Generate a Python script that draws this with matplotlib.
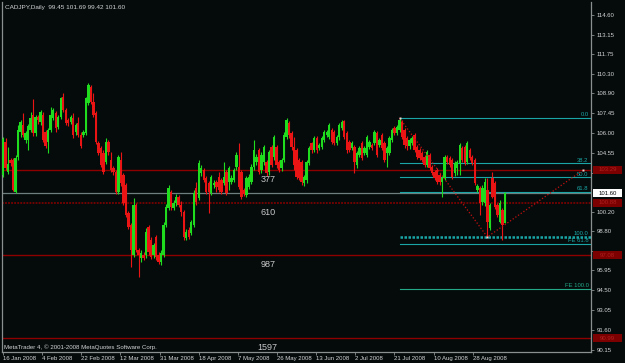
import matplotlib
matplotlib.use("Agg")
import matplotlib.pyplot as plt
import matplotlib.transforms as mtransforms
from matplotlib.patches import Rectangle
import numpy as np

plt.rcParams['font.family'] = ['Liberation Sans', 'DejaVu Sans']

# ---------------- data ----------------
symbol_title = "CADJPY,Daily  99.45 101.69 99.42 101.60"
copyright_text = "MetaTrader 4, \u00a9 2001-2008 MetaQuotes Software Corp."

opens = [102.92,105.33,103.14,104.02,104.02,101.68,104.23,106.06,106.57,105.48,
         105.48,106.21,107.30,105.99,107.15,106.79,107.30,106.06,105.33,106.21,
         107.08,107.45,106.42,107.15,108.61,107.67,106.94,106.79,107.08,106.06,
         106.72,105.84,105.84,105.99,108.18,109.35,108.25,107.45,105.26,104.89,
         104.53,103.87,105.33,104.02,103.43,103.14,101.68,104.02,102.92,102.19,
         100.15,99.27,97.08,100.73,97.45,96.86,97.08,97.08,99.12,98.18,
         97.08,98.40,97.08,96.57,97.08,99.27,100.51,101.68,100.51,100.88,
         101.31,100.73,100.22,98.32,98.91,98.69,99.27,101.97,101.24,103.07,
         103.29,102.70,102.34,101.61,102.19,102.41,102.77,102.56,102.34,103.14,
         102.41,102.41,102.56,103.50,103.50,103.14,101.83,101.46,102.04,102.41,
         103.50,103.87,104.75,103.29,103.87,103.87,103.14,104.96,104.23,104.96,
         103.87,103.43,104.02,105.70,106.72,105.99,104.96,104.75,104.02,103.87,
         102.34,102.56,103.80,105.26,104.75,105.62,104.89,104.96,105.48,105.84,
         105.70,106.21,106.06,105.26,105.70,106.35,106.86,105.99,105.33,104.89,
         104.96,103.65,104.38,105.26,104.53,104.38,104.96,105.11,105.26,105.99,
         105.11,105.84,105.26,104.53,104.53,105.48,106.35,105.99,106.21,106.79,
         106.21,105.62,105.04,105.26,105.84,104.96,104.75,104.53,104.23,103.65,
         104.38,103.50,103.14,103.29,102.92,102.41,102.70,104.23,104.16,104.02,
         103.07,103.43,103.80,104.89,104.96,103.87,104.75,104.23,104.02,101.83,
         101.97,100.95,100.88,101.83,99.05,102.70,102.34,100.73,99.49,100.37,
         99.45]
highs = [105.70,105.62,104.96,104.16,104.16,104.38,106.57,106.94,107.45,106.13,
         106.64,107.52,108.47,107.30,107.30,107.67,107.52,106.21,106.35,107.88,
         107.81,107.59,107.30,108.61,108.91,107.81,107.08,107.30,107.45,106.72,
         107.15,106.06,106.21,108.61,109.64,109.49,108.91,107.59,105.40,105.04,
         104.75,105.62,105.48,104.60,103.58,103.29,104.38,104.60,103.07,102.34,
         100.29,99.42,101.24,100.88,97.59,97.45,97.30,99.05,99.27,98.40,
         97.96,98.54,97.30,97.45,99.49,100.80,102.19,101.83,101.10,101.53,
         101.46,101.02,100.37,98.98,99.12,99.64,101.83,102.41,104.02,103.65,
         103.43,102.85,102.48,102.92,102.56,102.56,103.14,102.70,103.87,103.29,
         103.58,102.92,103.43,104.60,105.26,103.29,101.97,102.85,102.99,103.72,
         105.48,104.45,104.89,104.60,105.11,104.02,104.75,105.11,105.84,105.11,
         104.02,104.16,106.06,107.08,106.86,106.13,105.70,104.89,104.16,104.02,
         102.92,104.02,105.04,105.33,105.77,105.77,105.26,105.77,106.21,106.21,
         106.72,106.35,106.21,105.84,106.72,106.94,106.94,106.13,105.48,105.40,
         105.11,104.67,105.04,105.40,105.04,105.84,105.48,105.26,106.21,106.13,
         105.62,105.99,105.40,105.04,105.77,106.35,106.50,106.57,107.08,106.94,
         106.35,105.77,105.62,105.77,105.99,105.11,104.89,104.67,104.38,104.75,
         104.53,103.65,103.29,103.43,103.07,102.85,104.38,104.38,104.31,104.16,
         103.94,104.02,105.26,105.04,105.11,105.40,104.89,104.38,104.16,102.26,
         102.12,102.19,102.70,102.70,100.88,103.14,102.48,100.88,101.10,100.51,
         101.69]
lows = [102.77,103.29,102.99,103.58,101.75,101.61,104.02,105.70,105.70,105.26,
        104.75,106.06,105.77,105.77,106.64,106.57,105.33,104.89,104.53,106.06,
        106.94,106.06,106.28,107.01,107.52,106.57,106.50,106.64,105.62,105.84,
        105.70,104.89,105.70,105.84,108.03,108.10,107.15,105.18,104.38,103.50,
        102.99,103.72,104.38,103.14,102.92,101.53,101.53,102.12,100.73,99.85,
        98.98,96.20,96.94,97.30,95.47,96.57,96.72,96.86,97.08,96.79,
        96.86,96.72,96.42,96.35,96.94,99.12,100.37,100.37,100.37,100.66,
        100.58,99.93,98.18,98.18,98.25,98.54,99.12,100.73,101.10,102.85,
        102.41,101.53,100.15,101.46,101.97,101.68,101.68,101.53,102.19,101.46,
        101.83,102.26,102.41,103.29,101.90,101.17,101.39,101.31,101.90,102.26,
        103.29,103.65,102.99,103.07,103.65,102.85,102.92,103.50,104.02,103.43,
        103.14,103.21,103.87,105.55,105.62,104.75,103.29,102.63,102.56,102.19,
        102.12,102.34,103.65,104.53,104.60,104.53,104.75,104.82,105.33,105.70,
        105.55,105.18,105.11,105.11,105.48,106.21,105.55,104.53,104.60,104.75,
        103.07,103.43,104.23,104.02,104.38,104.23,104.82,104.75,105.11,104.23,
        104.96,104.75,103.87,103.50,104.38,105.33,105.84,105.84,106.06,105.55,
        104.89,104.75,104.82,105.11,104.60,104.09,104.02,103.87,103.50,103.50,
        103.29,102.92,102.56,102.26,102.19,101.31,102.56,103.72,103.50,102.63,
        102.85,102.92,102.92,103.87,103.65,103.72,104.02,103.65,102.19,101.68,
        100.00,100.73,100.66,98.40,98.91,101.24,100.44,99.85,99.42,98.18,
        99.42]
closes = [105.55,103.43,103.72,103.80,101.83,104.16,106.21,106.79,105.84,105.99,
          106.50,107.08,105.99,107.15,106.94,107.52,105.48,105.04,106.21,107.30,
          107.67,106.35,107.15,108.54,107.67,106.72,106.72,107.15,105.84,106.57,
          105.84,105.04,106.06,108.54,109.49,108.25,107.30,105.33,104.53,103.65,
          103.14,105.33,104.60,103.29,103.14,101.68,104.23,102.34,100.88,100.00,
          99.12,97.45,100.73,97.45,97.08,97.23,96.86,98.76,97.30,96.94,
          97.81,96.94,96.57,97.23,99.27,100.58,101.97,100.58,100.88,101.31,
          100.73,100.22,98.40,98.76,98.40,99.49,101.61,100.95,103.80,103.43,
          102.56,101.68,101.68,102.77,102.34,102.04,101.83,101.68,102.77,101.61,
          103.43,102.70,103.29,104.38,102.04,101.31,101.53,102.70,102.77,103.50,
          104.75,104.23,103.14,104.38,104.96,103.07,104.60,103.65,105.70,103.65,
          103.29,104.02,105.84,106.94,105.84,104.96,103.65,102.77,102.70,102.41,
          102.77,103.87,104.89,104.75,105.62,104.75,105.11,105.62,106.06,106.06,
          106.57,105.33,105.26,105.70,106.57,106.79,105.70,104.75,104.75,105.26,
          103.87,104.53,104.89,104.16,104.89,105.70,105.33,104.89,106.06,104.38,
          105.48,104.89,104.02,104.89,105.62,106.21,105.99,106.42,106.94,105.70,
          105.11,105.04,105.48,105.62,104.75,104.23,104.16,104.02,103.65,104.60,
          103.43,103.07,102.70,102.41,102.41,102.70,104.23,103.87,103.65,102.77,
          103.80,103.87,105.11,104.02,103.80,105.26,104.16,103.80,102.34,102.12,
          100.88,101.97,102.41,99.49,100.73,101.31,100.58,100.00,100.88,99.27,
          101.60]

date_labels = ["16 Jan 2008", "4 Feb 2008", "22 Feb 2008", "12 Mar 2008",
               "31 Mar 2008", "18 Apr 2008", "7 May 2008", "26 May 2008",
               "13 Jun 2008", "2 Jul 2008", "21 Jul 2008", "10 Aug 2008",
               "28 Aug 2008"]
price_ticks = [114.60, 113.15, 111.75, 110.30, 108.90, 107.45, 106.00, 104.55,
               103.10, 100.20, 98.80, 97.35, 95.95, 94.50, 93.05, 91.60, 90.15]
# tick labels that sit under the level price boxes are covered in the reference
covered_ticks = [103.10, 97.35]

level_prices = [103.29, 100.88, 97.08, 90.99]
level_names = ["377", "610", "987", "1597"]
level_dotted = [False, True, False, False]
bid_price = 101.60

fib_high = 107.08
fib_low = 98.40
fib_ext = 103.26
fib_bars = [158, 193, 231]
fib_ratios = [0.0, 38.2, 50.0, 61.8, 100.0]
fe_ratios = [61.8, 100.0]

# ---------------- style ----------------
bg = '#050b0b'
up_col = '#1fdc1f'
dn_col = '#ea1414'
lvl_col = '#8e0000'
fib_col = '#1aa6a6'
fe_col = '#23a888'
axis_col = '#8a9090'
txt_col = '#d4d4d4'

W, H = 625, 363
fig = plt.figure(figsize=(W / 100, H / 100), dpi=100, facecolor=bg)
ax = fig.add_axes([2 / W, 11 / H, 589 / W, 350 / H])
ax.set_facecolor(bg)
ax.set_xlim(-0.4, 234.3)
ax.set_ylim(90.0, 115.55)

n = len(closes)
xs = np.arange(n)
o = np.array(opens); h = np.array(highs); l = np.array(lows); c = np.array(closes)
cols = np.where(c >= o, up_col, dn_col)

# horizontal level lines (behind candles)
for p, nm, dotted in zip(level_prices, level_names, level_dotted):
    ax.axhline(p, color=lvl_col, lw=1.0 if not dotted else 1.1,
               ls=(0, (1.2, 0.8)) if dotted else '-', zorder=1)
    ax.annotate(nm, xy=(105.5, p), xytext=(0, -3.5), textcoords='offset points',
                ha='center', va='top', color='#c8c8c8', fontsize=6.5, zorder=5)
ax.axhline(bid_price, color='#6f7f7f', lw=0.9, zorder=1)

# fib retracement
x_right = ax.get_xlim()[1]
rng = fib_high - fib_low
for r in fib_ratios:
    p = fib_high - rng * r / 100.0
    if r == 100.0:
        ax.plot([fib_bars[0], x_right], [p, p], color=fib_col, lw=1.8,
                ls=(0, (1, 0.6)), zorder=2, solid_capstyle='butt')
    else:
        ax.plot([fib_bars[0], x_right], [p, p], color=fib_col, lw=0.8, zorder=2)
    ax.annotate(f"{r:.1f}", xy=(x_right - 1.0, p), xytext=(0, 0.6),
                textcoords='offset points', ha='right', va='bottom',
                color=fib_col, fontsize=4.2, zorder=5)
# fib expansion
for r in fe_ratios:
    p = fib_ext - rng * r / 100.0
    ax.plot([fib_bars[0], x_right], [p, p], color=fe_col if r == 100.0 else fib_col,
            lw=0.8, zorder=2)
    ax.annotate(f"FE {r:.1f}", xy=(x_right - 1.0, p), xytext=(0, 0.6),
                textcoords='offset points', ha='right', va='bottom',
                color=fe_col if r == 100.0 else fib_col, fontsize=4.2, zorder=5)

# candles
ax.vlines(xs, l, h, colors=cols, lw=0.8, zorder=3)
body_bot = np.minimum(o, c)
body_h = np.maximum(np.abs(c - o), 0.07)
ax.bar(xs, body_h, bottom=body_bot, width=0.95, color=cols, lw=0, zorder=4)

# fib expansion trend line
ax.plot(fib_bars, [fib_high, fib_low, fib_ext], color='#c41010', lw=0.9,
        ls=(0, (1, 1.6)), zorder=5)
ax.plot(fib_bars, [fib_high, fib_low, fib_ext], 's', ms=1.8, color='#f0d0d0',
        mec='none', zorder=6)

# spines / axes
ax.spines['top'].set_visible(False)
for s in ['left', 'right', 'bottom']:
    ax.spines[s].set_color(axis_col)
    ax.spines[s].set_linewidth(0.9)

ax.yaxis.tick_right()
ax.set_yticks(price_ticks)
ax.set_yticklabels(["" if v in covered_ticks else f"{v:.2f}" for v in price_ticks])
ax.tick_params(axis='y', colors=axis_col, labelcolor=txt_col, labelsize=4.3,
               length=2, width=0.6, pad=2)

xt = np.arange(len(date_labels)) * 15.6
ax.set_xticks(xt)
ax.set_xticklabels(date_labels, ha='left')
ax.tick_params(axis='x', colors=axis_col, labelcolor=txt_col, labelsize=4.3,
               length=2, width=0.6, pad=1)

# price boxes on the axis
trans = mtransforms.blended_transform_factory(ax.transAxes, ax.transData)
box_h = 8 / 13.7
x0 = 1.003
bw = 0.05
for p in level_prices:
    ax.add_patch(Rectangle((x0, p - box_h / 2), bw, box_h, transform=trans,
                           facecolor='#7c0000', edgecolor='none', clip_on=False,
                           zorder=6))
    ax.text(x0 + bw / 2, p, f"{p:.2f}", transform=trans, ha='center', va='center',
            color='#b02020', fontsize=4.3, clip_on=False, zorder=7)
ax.add_patch(Rectangle((x0, bid_price - box_h / 2), bw, box_h, transform=trans,
                       facecolor='white', edgecolor='none', clip_on=False, zorder=6))
ax.text(x0 + bw / 2, bid_price, f"{bid_price:.2f}", transform=trans, ha='center',
        va='center', color='black', fontsize=4.3, clip_on=False, zorder=7)

fig.text(5 / W, 1 - 8 / H, symbol_title, color=txt_col, fontsize=4.6, va='center',
         ha='left')
fig.text(4 / W, 1 - 347 / H, copyright_text, color=txt_col, fontsize=4.4,
         va='center', ha='left')

fig.savefig("out.png", dpi=100, facecolor=bg)
